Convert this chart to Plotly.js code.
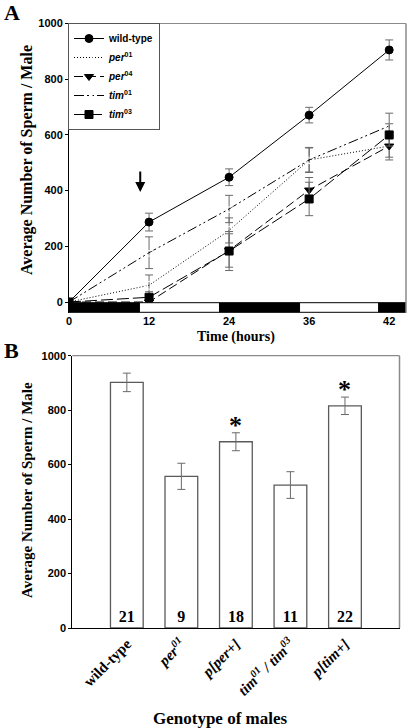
<!DOCTYPE html>
<html>
<head>
<meta charset="utf-8">
<script src="https://cdn.plot.ly/plotly-3.0.1.min.js"></script>
<style>html,body{margin:0;padding:0;background:#fff}#chart{width:410px;height:728px}</style>
</head>
<body>
<div id="chart"></div>
<script>
// ---------- Panel A data ----------
const times = ['0', '12', '24', '36', '42'];
const wildType = [0, 287, 448, 671, 905];
const wildTypeErr = [0, 32, 30, 28, 36];
const per01 = [0, 60, 257, 510, 560];
const per01Err = [0, 37, 45, 43, 50];
const per04 = [0, 0, 185, 402, 560];
const per04Err = [0, 15, 60, 45, 40];
const tim01 = [0, 177, 334, 510, 632];
const tim01Err = [0, 57, 49, 45, 46];
const tim03 = [0, 17, 183, 370, 600];
const tim03Err = [0, 20, 70, 60, 40];
// light/dark schedule bar under the time axis (axis units), dark = true
const ldEdges = [0, 0.88, 1.88, 2.88, 3.87, 4.21];
const ldDark = [true, false, true, false, true];

// ---------- Panel B data ----------
const genotypes = ['wild-type', 'per01', 'p[per+]', 'tim01/tim03', 'p[tim+]'];
const genotypeLabels = ['wild-type', '<i>per</i><sup><i>01</i></sup>', '<i>p[per+]</i>',
  '<i>tim</i><sup><i>01</i></sup><i> / tim</i><sup><i>03</i></sup>', '<i>p[tim+]</i>'];
const spermB = [902, 557, 684, 525, 816];
const spermBErr = [34, 48, 33, 49, 32];
const nMales = [21, 9, 18, 11, 22];
const significant = [false, false, true, false, true];

const W = 410, H = 728;
const errStyle = (arr) => ({type: 'data', array: arr, visible: true, color: '#6a6a6a', thickness: 1, width: 4});

function lineTrace(name, y, err, symbol, dash) {
  return {
    type: 'scatter', mode: 'lines+markers', x: times, y: y, name: name,
    xaxis: 'x', yaxis: 'y',
    line: {color: '#000', width: 1, dash: dash},
    marker: {symbol: symbol, size: 8, color: symbol.indexOf('open') >= 0 ? '#fff' : '#000',
             line: {color: '#000', width: 1}},
    error_y: errStyle(err)
  };
}

const traces = [
  lineTrace('<b>wild-type</b>', wildType, wildTypeErr, 'circle', 'solid'),
  lineTrace('<b><i>per</i><sup>01</sup></b>', per01, per01Err, 'circle-open', '1px,2px'),
  lineTrace('<b><i>per</i><sup>04</sup></b>', per04, per04Err, 'triangle-down', '9px,4px'),
  lineTrace('<b><i>tim</i><sup>01</sup></b>', tim01, tim01Err, 'triangle-down-open', '10px,3px,2px,3px,2px,3px'),
  lineTrace('<b><i>tim</i><sup>03</sup></b>', tim03, tim03Err, 'square', '12px,4px'),
  {
    type: 'bar', x: genotypes, y: spermB, xaxis: 'x2', yaxis: 'y2', showlegend: false,
    marker: {color: '#fff', line: {color: '#5a5a5a', width: 1.3}},
    width: 0.6,
    error_y: errStyle(spermBErr),
    text: nMales.map(String), textposition: 'inside', insidetextanchor: 'start',
    textangle: 0, constraintext: 'none',
    textfont: {family: 'Liberation Serif', size: 16, color: '#000', weight: 'bold'},
    hoverinfo: 'skip'
  }
];

const shapes = [];
for (let i = 0; i < ldDark.length; i++) {
  shapes.push({type: 'rect', xref: 'x', yref: 'y', x0: ldEdges[i], x1: ldEdges[i + 1], y0: -37, y1: -2.5,
    fillcolor: ldDark[i] ? '#000' : '#fff', line: {color: '#000', width: 1}, layer: 'above'});
}
// grey frame (top/right) for both panels
[['x', 'y'], ['x2', 'y2']].forEach(([xa, ya]) => {
  shapes.push({type: 'line', xref: xa + ' domain', yref: ya + ' domain', x0: 0, x1: 1, y0: 1, y1: 1, line: {color: '#8a8a8a', width: 1.2}});
  shapes.push({type: 'line', xref: xa + ' domain', yref: ya + ' domain', x0: 1, x1: 1, y0: 0, y1: 1, line: {color: '#8a8a8a', width: 1.5}});
});

const serif = 'Liberation Serif';
const annotations = [
  {xref: 'paper', yref: 'paper', x: 2 / W, y: 1 - 12 / H, text: '<b>A</b>', showarrow: false, xanchor: 'left', yanchor: 'middle',
   font: {family: serif, size: 22, color: '#000'}},
  {xref: 'paper', yref: 'paper', x: 2 / W, y: 1 - 350 / H, text: '<b>B</b>', showarrow: false, xanchor: 'left', yanchor: 'middle',
   font: {family: serif, size: 22, color: '#000'}},
  // arrow in panel A
  {xref: 'x', yref: 'y', x: 0.89, y: 395, ax: 0, ay: -22, showarrow: true, arrowhead: 2, arrowsize: 1, arrowwidth: 2, arrowcolor: '#000', text: ''},
  // titles
  {xref: 'paper', yref: 'paper', x: 27 / W, y: 1 - 160 / H, xanchor: 'center', yanchor: 'middle',
   text: '<b>Average Number of Sperm / Male</b>', textangle: -90, showarrow: false,
   font: {family: serif, size: 16, color: '#000'}},
  {xref: 'paper', yref: 'paper', x: 236 / W, y: 1 - 337 / H, xanchor: 'center', yanchor: 'middle',
   text: '<b>Time (hours)</b>', showarrow: false, font: {family: serif, size: 14, color: '#000'}},
  {xref: 'paper', yref: 'paper', x: 27 / W, y: 1 - 490 / H, xanchor: 'center', yanchor: 'middle',
   text: '<b>Average Number of Sperm / Male</b>', textangle: -90, showarrow: false,
   font: {family: serif, size: 15, color: '#000'}},
  {xref: 'paper', yref: 'paper', x: 220 / W, y: 1 - 718 / H, xanchor: 'center', yanchor: 'middle',
   text: '<b>Genotype of males</b>', showarrow: false, font: {family: serif, size: 17, color: '#000'}}
];
genotypes.forEach((g, i) => {
  if (significant[i]) {
    annotations.push({xref: 'x2', yref: 'y2', x: g, y: spermB[i] + spermBErr[i], yanchor: 'bottom', yshift: -9,
      text: '<b>*</b>', showarrow: false, font: {family: serif, size: 26, color: '#000'}});
  }
});

const tickFont = {family: 'Liberation Sans', size: 11, color: '#000', weight: 'bold'};

const layout = {
  width: W, height: H,
  margin: {l: 0, r: 0, t: 0, b: 0},
  paper_bgcolor: '#fff', plot_bgcolor: '#fff',
  showlegend: true,
  legend: {x: 68 / W, y: 1 - 23 / H, xanchor: 'left', yanchor: 'top', bgcolor: '#fff',
    bordercolor: '#555', borderwidth: 1, font: {family: 'Liberation Sans', size: 10, color: '#000'},
    tracegroupgap: 0, itemwidth: 30},
  xaxis: {domain: [69 / W, 406 / W], type: 'category', range: [0, 4.21], showline: false, showgrid: false,
    zeroline: false, ticks: '', tickfont: tickFont, anchor: 'y'},
  yaxis: {domain: [1 - 313 / H, 1 - 23.5 / H], range: [-39.5, 1000], tickvals: [0, 200, 400, 600, 800, 1000],
    showline: true, linecolor: '#000', linewidth: 1, showgrid: false, zeroline: false,
    ticks: 'outside', ticklen: 3, tickcolor: '#000', tickfont: tickFont, anchor: 'x'},
  xaxis2: {domain: [72.3 / W, 399.5 / W], type: 'category', range: [-1, 5], showline: true, linecolor: '#000', linewidth: 1.3,
    showgrid: false, zeroline: false, ticks: '', tickangle: -45, tickmode: 'array', tickvals: genotypes, ticktext: genotypeLabels,
    tickfont: {family: serif, size: 15, color: '#000', weight: 'bold'}, anchor: 'y2'},
  yaxis2: {domain: [1 - 628 / H, 1 - 355.7 / H], range: [0, 1000], tickvals: [0, 200, 400, 600, 800, 1000],
    showline: true, linecolor: '#000', linewidth: 1, showgrid: false, zeroline: false,
    ticks: 'outside', ticklen: 3, tickcolor: '#000', tickfont: tickFont, anchor: 'x2'},
  shapes: shapes,
  annotations: annotations
};

Plotly.newPlot('chart', traces, layout, {displayModeBar: false, staticPlot: true});
</script>
</body>
</html>
